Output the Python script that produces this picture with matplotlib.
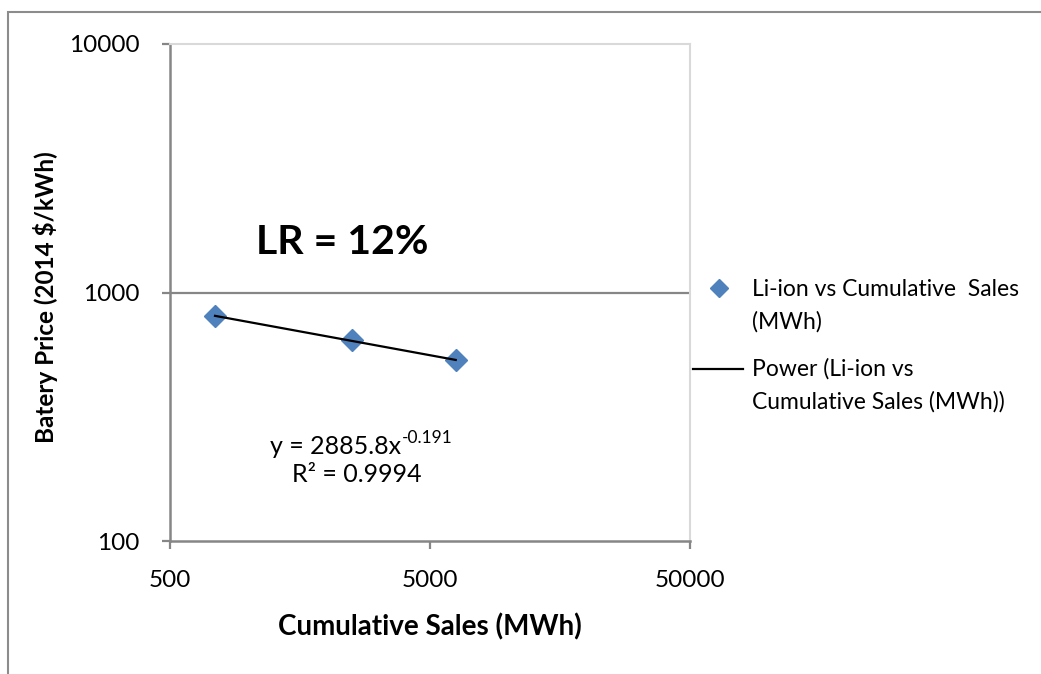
import numpy as np
import matplotlib
matplotlib.use("Agg")
import matplotlib.pyplot as plt
from matplotlib.patches import Rectangle
from matplotlib.lines import Line2D

# data
cum_sales = [745, 2510, 6280]      # MWh
price = [804, 641, 534]            # 2014 $/kWh
x_ticks = [500, 5000, 50000]
y_ticks = [100, 1000, 10000]

series_lines = ["Li-ion vs Cumulative  Sales", "(MWh)"]
trend_lines = ["Power (Li-ion vs", "Cumulative Sales (MWh))"]

plt.rcParams['font.family'] = ['Lato', 'DejaVu Sans']

W, H = 1041, 674
GRAY = "#868686"
fig = plt.figure(figsize=(W / 100, H / 100), dpi=100)

def fx(px):
    return px / W

def fy(py):
    return 1 - py / H

# outer chart border (cut off at right and bottom)
fig.patches.append(Rectangle((fx(8), -0.2), 2, fy(12) + 0.2, transform=fig.transFigure,
                             fill=False, edgecolor="#8c8c8c", linewidth=1.5))

ax = fig.add_axes([fx(170), fy(541), fx(690) - fx(170), fy(44) - fy(541)])
ax.set_xscale("log")
ax.set_yscale("log")
ax.set_xlim(500, 50000)
ax.set_ylim(100, 10000)

# horizontal gridlines only
for yv in y_ticks[1:-1]:
    ax.axhline(yv, color=GRAY, linewidth=1.6, zorder=1)

ax.plot(cum_sales, price, linestyle="none", marker="D", markersize=11.5,
        color="#4F81BD", zorder=3)

# power trendline fitted in log space
slope, intercept = np.polyfit(np.log10(cum_sales), np.log10(price), 1)
xs = np.geomspace(min(cum_sales), max(cum_sales), 50)
ax.plot(xs, 10 ** intercept * xs ** slope, color="black", linewidth=1.6, zorder=4)

ax.set_xticks(x_ticks)
ax.set_xticklabels([str(v) for v in x_ticks])
ax.set_yticks(y_ticks)
ax.set_yticklabels([str(v) for v in y_ticks])
ax.minorticks_off()
ax.tick_params(axis="both", direction="out", length=6, width=1.6, color=GRAY,
               labelsize=17.5, labelcolor="black")
ax.tick_params(axis="x", pad=15)
ax.tick_params(axis="y", pad=16)

for side in ["left", "bottom"]:
    ax.spines[side].set_color(GRAY)
    ax.spines[side].set_linewidth(1.8)
for side in ["right", "top"]:
    ax.spines[side].set_color("#d9d9d9")
    ax.spines[side].set_linewidth(1.5)

fig.text(fx(430), fy(627), "Cumulative Sales (MWh)", ha="center", va="center",
         fontsize=20, fontweight="bold")
fig.text(fx(46), fy(297), "Batery Price (2014 $/kWh)", ha="center", va="center",
         fontsize=17.5, fontweight="bold", rotation=90)

fig.text(fx(342), fy(242), "LR = 12%", ha="center", va="center",
         fontsize=29.5, fontweight="bold")

# trendline equation: base text plus a raised exponent
eq = fig.text(fx(270), fy(446), "y = 2885.8x", ha="left", va="center", fontsize=18)
fig.canvas.draw()
eq_box = eq.get_window_extent()
fig.text(eq_box.x1 / W + fx(1), fy(438), "-0.191", ha="left", va="center", fontsize=12.5)
fig.text(fx(357), fy(474), "R² = 0.9994", ha="center", va="center", fontsize=18)

# legend drawn by hand
fig.lines.append(Line2D([fx(719)], [fy(288)], transform=fig.transFigure, marker="D",
                        markersize=8.7, color="#4F81BD", linestyle="none"))
fig.lines.append(Line2D([fx(693), fx(743)], [fy(369), fy(369)], transform=fig.transFigure,
                        color="black", linewidth=1.6))
for txt, py in zip(series_lines + trend_lines, [290, 322, 369, 402]):
    fig.text(fx(752), fy(py), txt, ha="left", va="center", fontsize=16.5)

fig.savefig("out.png", dpi=100)
